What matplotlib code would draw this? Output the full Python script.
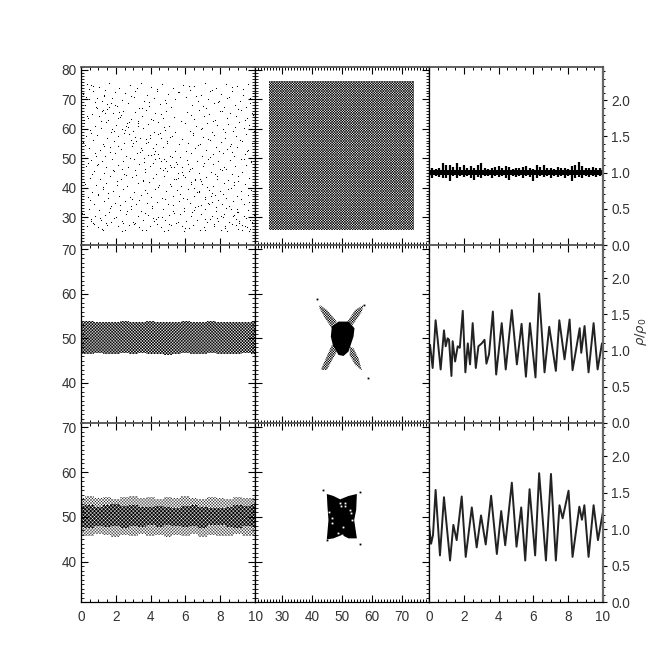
import matplotlib
matplotlib.use('Agg')
import matplotlib.pyplot as plt
from matplotlib.ticker import MultipleLocator

plt.rcParams['font.family'] = ['Liberation Sans', 'DejaVu Sans']
plt.rcParams['mathtext.fontset'] = 'dejavusans'
plt.rcParams['hatch.linewidth'] = 0.55

# top left panel: sparse particles, estimated by eye
sparse_x = [
    0.35, 1.05, 1.62, 2.21, 2.83, 3.47, 4.02, 4.66, 5.31, 5.88, 6.52, 7.14, 7.75, 8.33, 8.96, 9.62,
    0.12, 0.71, 1.33, 1.94, 2.52, 3.12, 3.81, 4.37, 5.02, 5.61, 6.24, 6.87, 7.44, 8.07, 8.68, 9.31, 9.88,
    0.48, 1.21, 1.77, 2.38, 3.02, 3.61, 4.21, 4.85, 6.03, 6.71, 7.28, 7.92, 8.51, 9.14, 9.74,
    0.22, 0.88, 1.48, 2.07, 2.71, 3.33, 3.93, 4.52, 5.17, 6.38, 7.01, 7.62, 8.22, 8.83, 9.47,
    0.05, 0.62, 1.26, 1.85, 2.44, 3.08, 3.72, 4.28, 4.91, 6.12, 6.78, 7.35, 8.01, 8.59, 9.22, 9.81,
    0.41, 1.02, 1.58, 2.26, 2.88, 3.52, 4.11, 4.74, 5.32, 6.48, 7.08, 7.71, 8.37, 8.92, 9.55,
    0.17, 0.79, 1.41, 2.02, 2.63, 3.27, 3.86, 4.45, 5.05, 5.95, 6.61, 7.22, 7.84, 8.46, 9.07, 9.68,
    0.53, 1.14, 1.72, 2.34, 2.97, 3.58, 4.18, 4.81, 5.42, 6.28, 6.91, 7.52, 8.14, 8.74, 9.36, 9.93,
    0.28, 0.94, 1.52, 2.13, 2.76, 3.38, 3.99, 4.58, 5.22, 5.81, 6.42, 7.04, 7.66, 8.28, 8.88, 9.51,
    0.09, 0.68, 1.29, 1.91, 2.49, 3.15, 3.75, 4.33, 4.96, 6.17, 6.83, 7.41, 8.03, 8.63, 9.25, 9.84,
    0.44, 1.08, 1.64, 2.29, 2.92, 3.49, 4.13, 4.71, 5.38, 6.55, 7.17, 7.78, 8.41, 8.99, 9.59,
    0.2, 0.83, 1.37, 1.98, 2.58, 3.22, 3.83, 4.41, 5.09, 5.71, 6.33, 6.97, 7.56, 8.18, 8.79, 9.42,
    0.57, 1.18, 1.79, 2.41, 3.05, 3.64, 4.24, 4.88, 5.48, 6.08, 6.66, 7.31, 7.89, 8.54, 9.17, 9.76,
    0.31, 0.91, 1.46, 2.1, 2.68, 3.31, 3.96, 4.55, 5.14, 5.78, 6.37, 7.0, 7.6, 8.24, 8.85, 9.49, 9.95,
    0.07, 0.74, 1.31, 1.87, 2.47, 3.1, 3.69, 4.3, 4.93, 5.55, 6.21, 6.81, 7.47, 8.09, 8.7, 9.28,
    0.5, 1.11, 1.69, 2.31, 2.94, 3.55, 4.16, 4.78, 5.36, 5.98, 6.58, 7.2, 7.82, 8.43, 9.04, 9.66,
    0.25, 0.86, 1.43, 2.05, 2.65, 3.29, 3.9, 4.48, 5.11, 5.74, 6.35, 6.94, 7.58, 8.2, 8.81, 9.44, 9.9,
    0.14, 0.65, 1.24, 1.82, 2.42, 3.03, 3.66, 4.26, 4.89, 5.5, 6.14, 6.76, 7.38, 7.98, 8.6, 9.2, 9.79,
    0.38, 0.98, 1.55, 2.18, 2.8, 3.43, 4.05, 4.63, 5.26, 5.85, 6.47, 7.1, 7.69, 8.31, 8.94, 9.57,
    0.02, 0.76, 1.35, 1.96, 2.55, 3.18, 3.78, 4.39, 5.0, 5.65, 6.26, 6.89, 7.5, 8.12, 8.72, 9.34, 9.86,
    0.46, 1.06, 1.66, 2.24, 2.86, 3.45, 4.08, 4.69, 5.29, 5.91, 6.5, 7.12, 7.74, 8.35, 8.97, 9.6,
    0.19, 0.82, 1.4, 2.0, 2.6, 3.25, 3.85, 4.43, 5.07, 5.68, 6.3, 6.92, 7.54, 8.16, 8.77, 9.39, 9.97,
    0.6, 1.16, 1.75, 2.36, 2.99, 3.59, 4.2, 4.83, 5.44, 6.05, 6.68, 7.26, 7.87, 8.49, 9.1, 9.7,
    0.33, 0.96, 1.5, 2.15, 2.74, 3.36, 3.97, 4.6, 5.2, 5.83, 6.44, 7.06, 7.64, 8.26, 8.9, 9.53,
    0.1, 0.7, 1.27, 1.89, 2.5, 3.13, 3.73, 4.35, 4.98, 5.58, 6.19, 6.85, 7.43, 8.05, 8.66, 9.26, 9.83,
    0.55, 1.2, 1.6, 2.33, 2.9, 3.5, 4.15, 4.76, 5.34, 5.93, 6.56, 7.15, 7.8, 8.39, 9.01, 9.64,
    # second pass, points in the gaps of the first
    0.7, 1.4, 2.55, 3.2, 4.35, 5.6, 6.2, 7.5, 8.7, 9.3,
    0.3, 1.7, 2.9, 3.9, 4.9, 5.4, 6.6, 7.9, 8.4, 9.7,
    0.9, 1.5, 2.3, 3.5, 4.6, 6.3, 7.2, 8.1, 9.0, 9.9,
    0.15, 1.15, 2.7, 3.3, 4.0, 4.75, 5.75, 6.95, 7.6, 8.85, 9.45,
    0.6, 1.9, 2.45, 3.75, 4.55, 5.1, 6.45, 7.3, 8.25, 9.15,
    0.25, 1.3, 2.15, 3.0, 4.25, 4.95, 6.7, 7.95, 8.55, 9.55,
    0.85, 1.65, 2.8, 3.4, 4.5, 5.25, 6.05, 7.4, 8.65, 9.35,
    0.4, 1.0, 2.35, 3.65, 4.15, 5.5, 6.25, 7.05, 8.0, 9.75,
    0.65, 1.85, 2.6, 3.15, 4.7, 5.85, 6.9, 7.7, 8.35, 9.05,
    0.2, 1.25, 2.05, 3.55, 4.4, 5.15, 6.55, 7.25, 8.8, 9.6,
    0.95, 1.55, 2.95, 3.8, 4.85, 5.7, 6.1, 7.55, 8.15, 9.2,
    0.5, 1.75, 2.25, 3.35, 4.1, 5.3, 6.75, 7.85, 8.5, 9.85,
    0.05, 1.1, 2.65, 3.7, 4.65, 5.9, 6.4, 7.15, 8.95, 9.5,
    0.75, 1.45, 2.4, 3.05, 4.3, 5.05, 6.0, 7.65, 8.3, 9.1,
    0.35, 1.8, 2.85, 3.6, 4.8, 5.45, 6.65, 7.35, 8.75, 9.4,
    0.8, 1.35, 2.2, 3.25, 4.45, 5.65, 6.15, 7.8, 8.45, 9.65,
    0.45, 1.6, 2.75, 3.85, 4.05, 5.2, 6.85, 7.45, 8.6, 9.8,
    0.1, 1.2, 2.5, 3.45, 4.6, 5.8, 6.35, 7.1, 8.2, 9.25,
    0.55, 1.95, 2.1, 3.1, 4.2, 5.35, 6.5, 7.75, 8.9, 9.7,
    0.9, 1.4, 2.6, 3.95, 4.75, 5.55, 6.8, 7.3, 8.05, 9.0,
]
sparse_y = [
    75.1, 74.3, 75.4, 73.9, 74.8, 75.5, 74.1, 75.2, 73.8, 75.0, 74.4, 75.6, 74.0, 75.3, 74.6, 75.1,
    71.9, 72.8, 71.4, 72.6, 72.0, 73.0, 71.6, 72.9, 71.8, 72.4, 73.1, 71.5, 72.7, 71.7, 72.9, 71.6, 72.3,
    70.2, 69.4, 70.6, 69.7, 70.9, 69.3, 70.4, 69.8, 70.7, 69.5, 70.1, 69.6, 70.8, 69.4, 70.3,
    68.0, 67.3, 68.4, 67.7, 68.6, 67.2, 67.9, 68.5, 67.4, 68.2, 67.6, 68.7, 67.5, 68.1, 67.3,
    65.9, 65.1, 66.4, 65.4, 66.1, 65.7, 66.5, 65.2, 66.0, 65.6, 66.3, 65.0, 66.2, 65.5, 66.4, 65.3,
    63.6, 64.2, 63.1, 64.0, 63.4, 64.3, 62.9, 63.8, 64.1, 63.3, 64.4, 63.0, 63.7, 64.2, 63.5,
    61.8, 61.0, 62.2, 61.4, 62.0, 60.9, 61.6, 62.3, 61.1, 61.9, 60.8, 62.1, 61.3, 61.7, 62.4, 61.2,
    59.6, 60.1, 58.9, 59.9, 59.2, 60.2, 58.8, 59.7, 59.0, 59.4, 60.0, 58.9, 59.8, 59.1, 60.3, 59.3,
    57.4, 58.0, 56.9, 57.7, 58.1, 57.0, 57.9, 56.8, 57.5, 56.6, 58.0, 57.1, 57.8, 56.9, 57.6, 58.2,
    55.4, 56.1, 54.9, 55.7, 55.0, 56.0, 55.3, 54.8, 55.9, 55.2, 54.7, 56.1, 55.5, 54.9, 55.8, 55.1,
    53.6, 52.9, 53.9, 53.1, 54.0, 52.8, 53.4, 53.8, 52.6, 53.5, 52.9, 53.9, 53.0, 53.7, 52.8,
    51.2, 51.9, 50.9, 51.6, 50.8, 51.8, 51.0, 51.5, 50.7, 50.4, 51.7, 50.9, 51.4, 51.9, 50.8, 51.3,
    49.4, 48.9, 49.8, 49.1, 49.6, 48.8, 49.9, 49.2, 48.7, 49.5, 49.0, 49.7, 48.9, 49.4, 49.9, 49.0,
    47.3, 47.8, 46.9, 47.6, 47.0, 47.9, 47.2, 46.8, 47.7, 47.1, 46.7, 47.5, 47.9, 46.9, 47.4, 47.8, 47.0,
    45.1, 45.8, 44.9, 45.5, 44.8, 45.9, 45.2, 44.7, 45.6, 45.0, 45.7, 44.9, 45.4, 45.9, 44.8, 45.3,
    43.4, 42.8, 43.8, 43.0, 43.6, 42.7, 43.3, 43.9, 42.9, 43.5, 42.8, 43.7, 43.1, 42.6, 43.8, 43.2,
    41.2, 40.8, 41.7, 41.0, 40.6, 41.5, 41.9, 40.9, 41.3, 40.7, 41.8, 41.1, 40.5, 41.6, 41.0, 41.4, 40.8,
    39.0, 38.6, 39.4, 38.8, 39.7, 38.5, 39.2, 39.6, 38.7, 39.1, 39.5, 38.6, 39.3, 38.9, 39.8, 38.7, 39.2,
    36.9, 37.4, 36.5, 37.1, 36.7, 37.5, 36.8, 36.4, 37.3, 36.6, 37.2, 36.9, 37.6, 36.5, 37.0, 37.4,
    35.0, 34.4, 35.3, 34.7, 35.5, 34.3, 34.9, 35.2, 34.5, 35.4, 34.8, 34.2, 35.1, 34.6, 35.5, 34.4, 35.0,
    32.8, 32.3, 33.1, 32.5, 32.9, 32.2, 33.2, 32.6, 32.1, 33.0, 32.4, 32.8, 32.2, 33.1, 32.7, 32.3,
    30.9, 30.2, 30.7, 30.0, 31.0, 30.4, 30.8, 30.1, 30.6, 31.1, 30.3, 30.9, 30.5, 30.0, 30.8, 30.4, 30.7,
    28.6, 29.0, 28.2, 28.8, 28.3, 29.1, 28.5, 28.9, 28.1, 28.7, 29.0, 28.4, 28.8, 28.2, 28.6, 29.1,
    27.1, 26.6, 27.3, 26.8, 27.4, 26.7, 27.0, 26.5, 27.2, 26.9, 27.3, 26.6, 27.0, 26.8, 27.4, 26.7,
    25.8, 27.9, 25.6, 29.6, 25.5, 28.0, 25.7, 27.7, 25.6, 28.4, 26.2, 25.5, 29.4, 25.7, 27.8, 25.6, 28.1,
    29.4, 25.9, 31.6, 25.3, 33.6, 25.5, 29.8, 25.4, 31.4, 25.3, 33.4, 25.5, 29.6, 25.4, 31.7, 25.3,
    74.6, 73.3, 72.2, 74.0, 73.6, 72.5, 74.7, 73.2, 74.2, 73.5,
    70.7, 68.9, 71.2, 69.2, 68.7, 70.0, 71.0, 69.0, 70.5, 68.8,
    67.0, 66.7, 64.7, 66.9, 64.9, 64.6, 67.1, 65.9, 66.8, 64.8,
    63.0, 62.7, 60.5, 62.6, 63.2, 60.7, 62.8, 60.4, 62.5, 60.6, 63.1,
    58.4, 59.3, 58.6, 56.4, 58.7, 57.3, 58.5, 56.5, 59.0, 56.3,
    54.5, 54.0, 54.3, 55.0, 52.4, 55.2, 54.6, 52.5, 54.2, 52.3,
    50.6, 52.2, 50.2, 52.0, 50.1, 50.3, 52.4, 50.5, 52.1, 49.9,
    48.5, 48.2, 46.3, 46.5, 48.4, 48.0, 46.4, 48.3, 46.2, 48.6,
    44.5, 46.0, 44.3, 44.2, 46.1, 44.4, 42.4, 44.6, 46.4, 42.2,
    42.0, 40.3, 42.3, 42.1, 40.1, 40.4, 42.5, 40.2, 41.9, 39.9,
    37.9, 38.2, 36.1, 38.3, 36.2, 38.0, 36.0, 38.1, 37.7, 36.3,
    35.8, 33.7, 34.0, 35.7, 33.9, 34.1, 33.8, 35.9, 33.6, 34.0,
    31.5, 29.7, 31.9, 31.3, 29.9, 32.0, 31.6, 29.5, 31.8, 29.8,
    27.6, 27.9, 28.0, 27.5, 29.3, 27.7, 26.4, 27.8, 26.3, 28.1,
    64.2, 60.0, 56.2, 50.0, 46.6, 42.9, 38.4, 34.6, 30.5, 26.9,
    69.1, 71.3, 65.8, 61.9, 58.2, 54.7, 48.1, 44.1, 39.6, 35.2,
    73.6, 67.5, 62.2, 55.6, 51.1, 47.1, 43.0, 37.0, 32.6, 28.4,
    72.2, 66.1, 59.5, 53.4, 49.2, 45.3, 41.3, 36.2, 31.1, 27.2,
    74.9, 68.2, 63.5, 57.2, 51.5, 46.9, 40.0, 33.4, 29.2, 26.0,
    70.3, 65.4, 61.0, 56.8, 49.6, 43.4, 38.8, 34.9, 30.3, 25.8,
]

# top middle panel: extent of the dense cloud
square_x = [25.7, 74.0]
square_y_low = [25.5, 25.5]
square_y_high = [76.2, 76.2]

# left column, band edges read along x
band_x = [0, 0.5, 1, 1.5, 2, 2.5, 3, 3.5, 4, 4.5, 5, 5.5, 6, 6.5, 7, 7.5, 8, 8.5, 9, 9.5, 10]
mid_band_high = [53.7, 53.9, 53.6, 53.8, 53.7, 53.9, 53.6, 53.8, 53.9, 53.6, 53.8, 53.7, 53.9, 53.6, 53.8, 53.9, 53.7, 53.8, 53.6, 53.8, 53.9]
mid_band_low = [46.6, 46.4, 46.7, 46.5, 46.6, 46.8, 46.5, 46.7, 46.4, 46.6, 46.3, 46.5, 46.7, 46.6, 46.4, 46.7, 46.5, 46.6, 46.4, 46.7, 46.5]
low_outer_high = [54.3, 54.6, 54.2, 54.5, 54.1, 54.4, 54.6, 54.3, 54.5, 54.0, 54.4, 54.2, 54.6, 54.3, 54.1, 54.5, 54.2, 54.0, 54.5, 54.3, 54.2]
low_outer_low = [46.0, 45.7, 46.1, 45.9, 45.6, 46.0, 45.8, 46.2, 45.7, 45.9, 45.5, 46.0, 45.8, 46.1, 45.6, 45.9, 45.7, 45.8, 46.1, 45.8, 45.9]
low_core_high = [52.5, 52.7, 52.3, 52.6, 52.8, 52.4, 52.6, 52.3, 52.2, 52.5, 52.2, 52.0, 52.4, 52.6, 52.3, 52.1, 51.9, 52.2, 52.6, 52.4, 52.7]
low_core_low = [47.8, 47.6, 47.9, 47.7, 48.0, 47.6, 47.9, 47.8, 48.1, 47.7, 48.2, 48.0, 47.7, 47.9, 47.6, 48.1, 48.2, 47.8, 47.6, 47.9, 47.7]

# centre panel, second row: core and four arms
core_x = [48.88, 52.21, 54.21, 53.88, 52.21, 50.55, 48.88, 46.99, 46.33, 46.66]
core_y = [53.79, 53.79, 52.29, 50.42, 47.05, 46.07, 46.30, 48.54, 50.42, 52.66]
arm_ul_x = [42.55, 45.0, 48.33, 46.66, 44.44, 42.55]
arm_ul_y = [57.53, 56.41, 53.79, 52.29, 54.54, 56.78]
arm_ur_x = [57.21, 56.66, 54.44, 52.55, 51.88, 54.44]
arm_ur_y = [57.53, 56.03, 53.79, 52.29, 53.79, 56.41]
arm_ll_x = [43.0, 45.0, 48.33, 48.33, 46.66, 44.44]
arm_ll_y = [42.93, 42.93, 47.05, 48.17, 48.54, 45.17]
arm_lr_x = [56.66, 54.44, 52.55, 52.77, 53.88, 55.55]
arm_lr_y = [42.78, 44.05, 46.30, 48.17, 47.79, 45.55]
stray_mid_x = [41.66, 58.66, 57.3]
stray_mid_y = [58.88, 41.05, 57.6]

# centre panel, third row
bow_x = [45.0, 47.21, 49.44, 52.21, 55.0, 54.77, 54.1, 55.0, 52.21, 49.99, 47.21, 45.0, 45.55, 45.21]
bow_y = [55.14, 54.69, 53.94, 54.69, 55.14, 51.56, 49.32, 45.22, 45.22, 45.97, 45.22, 45.0, 49.32, 52.3]
stray_low_x = [43.88, 56.0, 56.0, 45.0]
stray_low_y = [56.03, 55.51, 43.88, 44.8]
hole_x = [49.44, 49.66, 51.10, 51.10, 45.88, 46.88, 46.88, 53.10, 53.44, 52.77, 50.33, 48.88, 50.0]
hole_y = [53.05, 52.45, 53.05, 52.45, 51.19, 49.70, 48.73, 50.81, 49.32, 51.56, 47.83, 46.34, 45.97]

# right column density, top: noisy band around 1
noise_t = [0, 0.2, 0.4, 0.6, 0.8, 1, 1.2, 1.4, 1.6, 1.8, 2, 2.2, 2.4, 2.6, 2.8, 3, 3.2, 3.4, 3.6, 3.8,
           4, 4.2, 4.4, 4.6, 4.8, 5, 5.2, 5.4, 5.6, 5.8, 6, 6.2, 6.4, 6.6, 6.8, 7, 7.2, 7.4, 7.6, 7.8,
           8, 8.2, 8.4, 8.6, 8.8, 9, 9.2, 9.4, 9.6, 9.8, 10]
noise_high = [1.06, 1.07, 1.05, 1.07, 1.13, 1.10, 1.11, 1.08, 1.13, 1.08, 1.10, 1.07, 1.09, 1.06, 1.10, 1.14, 1.06, 1.05, 1.07, 1.08,
              1.09, 1.06, 1.09, 1.08, 1.05, 1.07, 1.06, 1.08, 1.09, 1.07, 1.05, 1.10, 1.08, 1.11, 1.06, 1.06, 1.05, 1.08, 1.06, 1.07,
              1.05, 1.09, 1.10, 1.15, 1.09, 1.07, 1.06, 1.08, 1.07, 1.06, 1.07]
noise_low = [0.95, 0.93, 0.96, 0.94, 0.92, 0.93, 0.89, 0.95, 0.93, 0.96, 0.94, 0.95, 0.93, 0.90, 0.94, 0.92, 0.95, 0.96, 0.93, 0.95,
             0.94, 0.96, 0.93, 0.90, 0.95, 0.94, 0.96, 0.93, 0.95, 0.94, 0.88, 0.92, 0.95, 0.94, 0.96, 0.93, 0.95, 0.94, 0.96, 0.93,
             0.95, 0.89, 0.93, 0.94, 0.92, 0.95, 0.94, 0.96, 0.94, 0.95, 0.94]
noise_core_x = [0, 10]
noise_core_low = [0.965, 0.965]
noise_core_high = [1.035, 1.035]

# right column density, middle
rho_mid_t = [0, 0.06, 0.21, 0.38, 0.50, 0.67, 0.86, 0.96, 1.07, 1.15, 1.29, 1.36, 1.50, 1.65, 1.77, 1.94, 2.09, 2.23, 2.36, 2.51,
             2.69, 2.84, 3.03, 3.19, 3.30, 3.45, 3.67, 3.86, 4.18, 4.41, 4.76, 5.05, 5.32, 5.57, 5.80, 6.12, 6.33, 6.64, 6.91, 7.29,
             7.49, 7.79, 8.08, 8.25, 8.66, 8.75, 8.94, 9.17, 9.46, 9.69, 9.94, 10]
rho_mid = [0.99, 1.08, 0.76, 1.42, 1.15, 0.74, 1.28, 1.06, 1.17, 1.15, 0.65, 1.13, 0.85, 1.06, 1.04, 1.55, 0.70, 1.10, 0.81, 1.38,
           0.76, 1.06, 1.10, 1.15, 0.82, 0.95, 1.54, 0.67, 1.38, 0.74, 1.56, 0.81, 1.37, 0.64, 1.38, 0.63, 1.79, 0.70, 1.33, 0.72,
           1.42, 0.88, 1.43, 0.73, 1.31, 0.97, 1.34, 0.70, 1.38, 0.74, 1.10, 1.05]

# right column density, bottom
rho_low_t = [0, 0.12, 0.23, 0.38, 0.63, 0.86, 1.21, 1.40, 1.59, 1.88, 2.11, 2.46, 2.74, 2.99, 3.26, 3.57, 3.90, 4.15, 4.38, 4.76,
             5.03, 5.30, 5.53, 5.78, 6.10, 6.33, 6.72, 7.01, 7.29, 7.50, 7.68, 8.02, 8.25, 8.64, 8.79, 8.93, 9.17, 9.46, 9.71, 10]
rho_low = [1.06, 0.80, 0.92, 1.54, 0.64, 1.44, 0.57, 1.06, 0.85, 1.45, 0.62, 1.30, 0.75, 1.19, 0.79, 1.46, 0.66, 1.25, 0.78, 1.64,
           0.76, 1.30, 0.57, 1.55, 0.64, 1.77, 0.57, 1.76, 0.57, 1.33, 1.15, 1.53, 0.62, 1.31, 1.13, 1.33, 0.62, 1.33, 0.85, 1.24]

time_ticks = [0, 2, 4, 6, 8, 10]
pos_ticks = [30, 40, 50, 60, 70]
rho_ticks = [0.0, 0.5, 1.0, 1.5, 2.0]
row_ylims = [(20.5, 81.0), (31.0, 71.0), (31.0, 71.0)]
row_yticks = [[30, 40, 50, 60, 70, 80], [40, 50, 60, 70], [40, 50, 60, 70]]

TEXT = '#333333'
xs = [81, 255, 429, 603]
ys = [67, 245, 423, 602]

fig = plt.figure(figsize=(6.7, 6.7), dpi=100)
axes = []
for r in range(3):
    row = []
    for c in range(3):
        rect = [xs[c] / 670, 1 - ys[r + 1] / 670, (xs[c + 1] - xs[c]) / 670, (ys[r + 1] - ys[r]) / 670]
        row.append(fig.add_axes(rect))
    axes.append(row)

for r in range(3):
    for c in range(3):
        ax = axes[r][c]
        if c == 1:
            ax.set_xlim(21.1, 79.0)
            ax.xaxis.set_major_locator(MultipleLocator(10))
            ax.xaxis.set_minor_locator(MultipleLocator(1))
        else:
            ax.set_xlim(0, 10)
            ax.set_xticks(time_ticks)
            ax.xaxis.set_minor_locator(MultipleLocator(0.5))
        ax.tick_params(axis='x', which='major', direction='in', top=True, bottom=True, length=5, width=0.8, labelbottom=False)
        ax.tick_params(axis='x', which='minor', direction='in', top=True, bottom=True, length=2, width=0.7)
        if c < 2:
            ax.set_ylim(*row_ylims[r])
            ax.set_yticks(row_yticks[r])
            ax.yaxis.set_minor_locator(MultipleLocator(1))
            ax.tick_params(axis='y', which='major', direction='in', left=True, right=True, length=5, width=0.8, labelleft=(c == 0))
            ax.tick_params(axis='y', which='minor', direction='in', left=True, right=True, length=2, width=0.6)
        else:
            ax.set_ylim(0, 2.46)
            ax.yaxis.tick_right()
            ax.set_yticks(rho_ticks)
            ax.yaxis.set_minor_locator(MultipleLocator(0.1))
            ax.tick_params(axis='y', which='major', direction='out', right=True, left=False, length=3, width=0.8, labelright=True)
            ax.tick_params(axis='y', which='minor', direction='out', right=True, left=False, length=1.2, width=0.7)
            ax.set_yticklabels(['%.1f' % v for v in rho_ticks], fontsize=9.8, color=TEXT)
        for lab in ax.get_yticklabels():
            lab.set_fontsize(9.8)
            lab.set_color(TEXT)
        ax.tick_params(axis='both', which='major', pad=3)
        ax.spines['top'].set_color('#555555')
        ax.spines['top'].set_linewidth(1.3)
        for name in ['left', 'right', 'bottom']:
            ax.spines[name].set_linewidth(0.9)
        if c == 2:
            ax.spines['right'].set_color('#666666')
            ax.spines['right'].set_linewidth(1.6)

for c in range(3):
    ax = axes[2][c]
    ax.tick_params(axis='x', which='major', labelbottom=True, pad=6)
    if c == 1:
        ax.set_xticks(pos_ticks)
    for lab in ax.get_xticklabels():
        lab.set_fontsize(9.8)
        lab.set_color(TEXT)

# first row
axes[0][0].plot(sparse_x, sparse_y, ls='', marker='s', ms=0.75, mew=0, color='black')
plt.rcParams['hatch.linewidth'] = 0.4
axes[0][1].fill_between(square_x, square_y_low, square_y_high, facecolor='white', edgecolor='black', hatch='x' * 13, lw=0)
axes[0][2].vlines(noise_t, noise_low, noise_high, color='black', lw=1.6)
axes[0][2].fill_between(noise_core_x, noise_core_low, noise_core_high, color='black', lw=0)

# second row
plt.rcParams['hatch.linewidth'] = 0.3
axes[1][0].fill_between(band_x, mid_band_low, mid_band_high, step='mid', facecolor='black', edgecolor='white', hatch='x' * 11, lw=0)
plt.rcParams['hatch.linewidth'] = 0.35
for ax_x, ax_y in [(arm_ul_x, arm_ul_y), (arm_ur_x, arm_ur_y), (arm_ll_x, arm_ll_y), (arm_lr_x, arm_lr_y)]:
    axes[1][1].fill(ax_x, ax_y, facecolor='white', edgecolor='black', hatch='x' * 13, lw=0)
axes[1][1].fill(core_x, core_y, color='black', lw=0)
axes[1][1].plot(stray_mid_x, stray_mid_y, ls='', marker='s', ms=1.3, mew=0, color='black')
axes[1][2].plot(rho_mid_t, rho_mid, color='#222222', lw=1.4)

# third row
plt.rcParams['hatch.linewidth'] = 0.25
axes[2][0].fill_between(band_x, low_outer_low, low_outer_high, step='mid', facecolor='white', edgecolor='black', hatch='x' * 11, lw=0)
plt.rcParams['hatch.linewidth'] = 0.3
axes[2][0].fill_between(band_x, low_core_low, low_core_high, step='mid', facecolor='black', edgecolor='white', hatch='x' * 9, lw=0)
axes[2][1].fill(bow_x, bow_y, color='black', lw=0)
axes[2][1].plot(hole_x, hole_y, ls='', marker='s', ms=1.3, mew=0, color='white')
axes[2][1].plot(stray_low_x, stray_low_y, ls='', marker='s', ms=1.3, mew=0, color='black')
axes[2][2].plot(rho_low_t, rho_low, color='#222222', lw=1.4)

fig.text(641 / 670, 1 - 332 / 670, r'$\rho/\rho_0$', rotation=90, ha='center', va='center', fontsize=9.5, color=TEXT)

fig.savefig('out.png', dpi=100)
